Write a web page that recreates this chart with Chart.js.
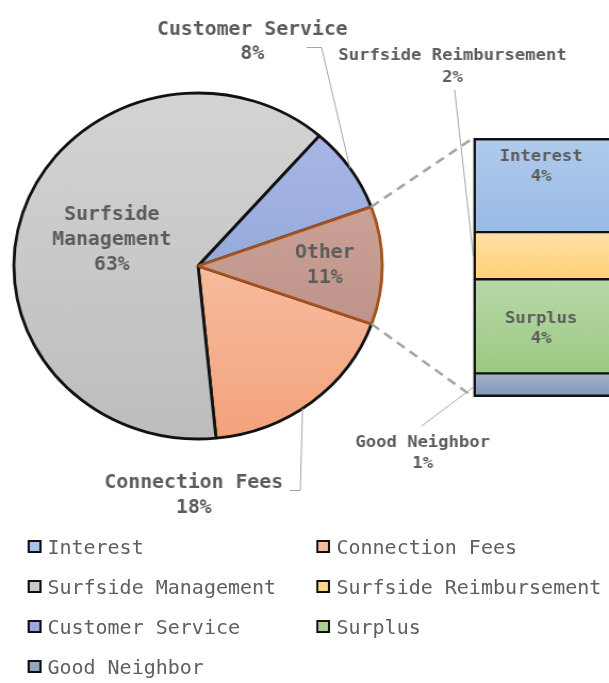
<!DOCTYPE html>
<html><head><meta charset="utf-8">
<script src="https://cdn.jsdelivr.net/npm/chart.js@4.4.1/dist/chart.umd.min.js"></script>
<style>
html,body{margin:0;padding:0;background:#fff;overflow:hidden;width:609px;height:683px}
#wrap{position:absolute;left:0;top:0;width:572px;height:683px;transform:scaleX(1.0647);transform-origin:0 0}
#pie{position:absolute;left:0;top:0}
#bar{position:absolute;left:440px;top:0}
.lg{position:absolute;height:20px;line-height:20px;font-family:"DejaVu Sans Mono","Liberation Mono",monospace;font-size:18.8px;color:#5f5f5f;white-space:nowrap}
.lg i{display:inline-block;width:9px;height:9px;border:2px solid #111;vertical-align:middle;margin-right:6px;position:relative;top:-2px}
</style></head>
<body>
<div id="wrap">
<canvas id="pie" width="572" height="683"></canvas>
<canvas id="bar" width="150" height="683"></canvas>
<div id="legend"></div>
</div>
<script>
// ---- data ----
const mainLabels = ['Connection Fees', 'Surfside Management', 'Customer Service', 'Other'];
const mainValues = [18, 63, 8, 11];
const otherLabels = ['Interest', 'Surfside Reimbursement', 'Surplus', 'Good Neighbor'];
const otherValues = [4, 2, 4, 1];
const legendLabels = ['Interest', 'Surfside Management', 'Customer Service', 'Good Neighbor',
                      'Connection Fees', 'Surfside Reimbursement', 'Surplus'];

// ---- styles ----
const COLORS = {
  'Surfside Management': ['#d4d4d4', '#bdbdbd'],
  'Customer Service': ['#adbce7', '#8097d3'],
  'Other': ['#d8ada3', '#b2877c'],
  'Connection Fees': ['#fbd5c0', '#f3a27b'],
  'Interest': ['#b0cbec', '#98bae5'],
  'Surfside Reimbursement': ['#ffe0a6', '#ffd178'],
  'Surplus': ['#b9d9a8', '#9ac882'],
  'Good Neighbor': ['#a2b2cc', '#8297b7']
};
const TEXT = '#5c5c5c';
const LINE = '#a6a6a6';
const FONT = '"DejaVu Sans Mono","Liberation Mono",monospace';
const F_MAIN = 'bold 18.6px ' + FONT;
const F_SUB = 'bold 16.2px ' + FONT;
const PIE_R = 173;
const BAR_LEFT = 440;
const VISIBLE_RIGHT = 572;

function mix(a, b) {
  const p = h => [1, 3, 5].map(i => parseInt(h.substr(i, 2), 16));
  const A = p(a), B = p(b);
  return 'rgb(' + A.map((v, i) => Math.round((v + B[i]) / 2)).join(',') + ')';
}
function grad(ctx, name, y0, y1) {
  if (!isFinite(y0) || !isFinite(y1) || y0 === y1) return mix(...COLORS[name]);
  const g = ctx.createLinearGradient(0, y0, 0, y1);
  g.addColorStop(0, COLORS[name][0]);
  g.addColorStop(1, COLORS[name][1]);
  return g;
}

// ---- bar (breakdown of "Other") ----
const otherTotal = otherValues.reduce((a, b) => a + b, 0);
const barInside = { 'Interest': -18, 'Surplus': 2 }; // label vertical offsets
const barLabelPlugin = {
  id: 'barLabels',
  afterDatasetsDraw(chart) {
    const ctx = chart.ctx;
    ctx.save();
    ctx.fillStyle = TEXT;
    ctx.font = F_SUB;
    ctx.textAlign = 'center';
    ctx.textBaseline = 'middle';
    otherLabels.forEach((l, i) => {
      if (!(l in barInside)) return;
      const el = chart.getDatasetMeta(i).data[0];
      const left = el.x - el.width / 2;
      const right = Math.min(el.x + el.width / 2, VISIBLE_RIGHT - BAR_LEFT);
      const cx = (left + right) / 2;
      const cy = (el.y + el.base) / 2 + barInside[l];
      ctx.fillText(l, cx, cy - 10);
      ctx.fillText(otherValues[i] + '%', cx, cy + 10);
    });
    ctx.restore();
  }
};
const barChart = new Chart(document.getElementById('bar'), {
  type: 'bar',
  data: {
    labels: ['Other'],
    datasets: otherLabels.map((l, i) => ({
      label: l,
      data: [otherValues[i]],
      backgroundColor: (c) => {
        const y = c.chart.scales && c.chart.scales.y;
        if (!y) return mix(...COLORS[l]);
        const before = otherValues.slice(0, i).reduce((a, b) => a + b, 0);
        return grad(c.chart.ctx, l, y.getPixelForValue(before), y.getPixelForValue(before + otherValues[i]));
      },
      borderColor: '#111',
      borderWidth: { top: i === 0 ? 2.8 : 1.5, bottom: i === otherLabels.length - 1 ? 2.8 : 1.5, left: 2.8, right: 2.8 },
      borderSkipped: false,
      categoryPercentage: 1,
      barPercentage: 1
    }))
  },
  options: {
    responsive: false,
    animation: false,
    events: [],
    layout: { padding: { left: 4.5, right: 5, top: 138, bottom: 286 } },
    scales: {
      x: { stacked: true, display: false },
      y: { stacked: true, display: false, reverse: true, min: 0, max: otherTotal }
    },
    plugins: { legend: { display: false }, tooltip: { enabled: false } }
  },
  plugins: [barLabelPlugin]
});

// ---- pie ----
function barGeom() {
  const metas = otherLabels.map((l, i) => barChart.getDatasetMeta(i).data[0]);
  const f = metas[0];
  const left = BAR_LEFT + f.x - f.width / 2;
  const seg = metas.map(e => ({ top: Math.min(e.y, e.base), bottom: Math.max(e.y, e.base) }));
  return { left, seg, top: seg[0].top, bottom: seg[seg.length - 1].bottom };
}
function text(ctx, lines, x, y, gap) {
  lines.forEach((t, k) => ctx.fillText(t, x, y + k * gap));
}
const pieLabelPlugin = {
  id: 'pieLabels',
  afterDraw(chart) {
    const ctx = chart.ctx;
    const arcs = chart.getDatasetMeta(0).data;
    const cx = arcs[0].x, cy = arcs[0].y, R = arcs[0].outerRadius;
    const idx = n => mainLabels.indexOf(n);
    const mid = a => (a.startAngle + a.endAngle) / 2;
    const edge = (ang, r) => [cx + r * Math.cos(ang), cy + r * Math.sin(ang)];
    const bg = barGeom();
    ctx.save();
    // dashed connectors from "Other" slice to bar
    const oth = arcs[idx('Other')];
    ctx.strokeStyle = LINE;
    ctx.lineWidth = 2.6;
    ctx.setLineDash([9, 6]);
    let p = edge(oth.startAngle, R);
    ctx.beginPath(); ctx.moveTo(p[0], p[1]); ctx.lineTo(bg.left, bg.top); ctx.stroke();
    p = edge(oth.endAngle, R);
    ctx.beginPath(); ctx.moveTo(p[0], p[1]); ctx.lineTo(bg.left, bg.bottom); ctx.stroke();
    ctx.setLineDash([]);
    // leader lines
    ctx.lineWidth = 1;
    const cs = edge(mid(arcs[idx('Customer Service')]), R);
    ctx.beginPath(); ctx.moveTo(288, 47.5); ctx.lineTo(302, 47.5); ctx.lineTo(cs[0], cs[1]); ctx.stroke();
    const cf = edge(mid(arcs[idx('Connection Fees')]) + 0.06, R);
    ctx.beginPath(); ctx.moveTo(272, 490.5); ctx.lineTo(282, 490.5); ctx.lineTo(cf[0], cf[1]); ctx.stroke();
    const sr = bg.seg[otherLabels.indexOf('Surfside Reimbursement')];
    ctx.beginPath(); ctx.moveTo(427, 90); ctx.lineTo(bg.left, (sr.top + sr.bottom) / 2); ctx.stroke();
    const gn = bg.seg[otherLabels.indexOf('Good Neighbor')];
    ctx.beginPath(); ctx.moveTo(396, 426); ctx.lineTo(bg.left, (gn.top + gn.bottom) / 2 + 2); ctx.stroke();
    // labels
    ctx.fillStyle = TEXT;
    ctx.textAlign = 'center';
    ctx.textBaseline = 'middle';
    const v = n => mainValues[idx(n)] + '%';
    const ov = n => otherValues[otherLabels.indexOf(n)] + '%';
    ctx.font = F_MAIN;
    text(ctx, ['Surfside', 'Management', v('Surfside Management')], cx - 81, cy - 51, 25);
    text(ctx, ['Other', v('Other')], cx + 119, cy - 13, 25);
    text(ctx, ['Customer Service', v('Customer Service')], cx + 51, 30, 24);
    text(ctx, ['Connection Fees', v('Connection Fees')], cx - 4, 483, 25);
    ctx.font = F_SUB;
    text(ctx, ['Surfside Reimbursement', ov('Surfside Reimbursement')], 425, 56, 22);
    text(ctx, ['Good Neighbor', ov('Good Neighbor')], 397, 443, 21);
    ctx.restore();
  }
};
const pieChart = new Chart(document.getElementById('pie'), {
  type: 'pie',
  data: {
    labels: mainLabels,
    datasets: [{
      data: mainValues,
      radius: PIE_R,
      backgroundColor: (c) => {
        const name = mainLabels[c.dataIndex];
        if (!name) return '#ccc';
        const a = c.chart.chartArea;
        if (!a) return mix(...COLORS[name]);
        const m = (a.top + a.bottom) / 2;
        return grad(c.chart.ctx, name, m - PIE_R, m + PIE_R);
      },
      borderColor: mainLabels.map(l => l === 'Other' ? '#a3521b' : '#111'),
      borderWidth: 2.8
    }]
  },
  options: {
    responsive: false,
    animation: false,
    events: [],
    rotation: 109.6,
    layout: { padding: { left: 0, right: 200, top: 80, bottom: 231 } },
    plugins: { legend: { display: false }, tooltip: { enabled: false } }
  },
  plugins: [pieLabelPlugin]
});

// ---- legend ----
const lg = document.getElementById('legend');
legendLabels.forEach((l, i) => {
  const col = i < 4 ? 0 : 1, row = i < 4 ? i : i - 4;
  const d = document.createElement('div');
  d.className = 'lg';
  d.style.left = (col ? 297 : 25.5) + 'px';
  d.style.top = (538 + row * 40) + 'px';
  d.innerHTML = '<i style="background:' + mix(...COLORS[l]) + '"></i>' + l;
  lg.appendChild(d);
});
</script>
</body></html>
